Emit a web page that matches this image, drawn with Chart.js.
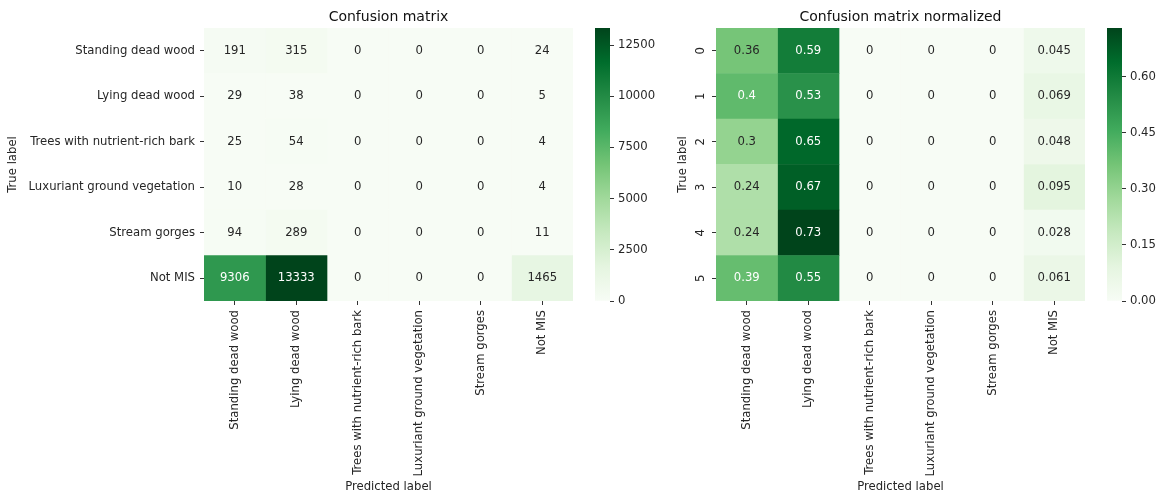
<!DOCTYPE html>
<html>
<head>
<meta charset="utf-8">
<script src="https://cdn.jsdelivr.net/npm/chart.js@4/dist/chart.umd.min.js"></script>
<style>
  html, body { margin: 0; padding: 0; background: #ffffff; }
  #wrap { position: relative; width: 1162px; height: 495px; overflow: hidden; }
  canvas { position: absolute; top: 0; }
</style>
</head>
<body>
<div id="wrap">
  <canvas id="countsChart" width="585" height="495" style="left:0px"></canvas>
  <canvas id="countsBar" width="87" height="495" style="left:585px"></canvas>
  <canvas id="normChart" width="428" height="495" style="left:672px"></canvas>
  <canvas id="normBar" width="62" height="495" style="left:1100px"></canvas>
</div>
<script>
// Class names shared by rows (true) and columns (predicted)
const classLabels = [
  'Standing dead wood',
  'Lying dead wood',
  'Trees with nutrient-rich bark',
  'Luxuriant ground vegetation',
  'Stream gorges',
  'Not MIS'
];
const rowIndexLabels = ['0', '1', '2', '3', '4', '5'];

// Raw counts, one row per true class
const counts = [
  [191, 315, 0, 0, 0, 24],
  [29, 38, 0, 0, 0, 5],
  [25, 54, 0, 0, 0, 4],
  [10, 28, 0, 0, 0, 4],
  [94, 289, 0, 0, 0, 11],
  [9306, 13333, 0, 0, 0, 1465]
];

// Row-normalised rates
const normalized = [
  [0.36, 0.59, 0, 0, 0, 0.045],
  [0.4, 0.53, 0, 0, 0, 0.069],
  [0.3, 0.65, 0, 0, 0, 0.048],
  [0.24, 0.67, 0, 0, 0, 0.095],
  [0.24, 0.73, 0, 0, 0, 0.028],
  [0.39, 0.55, 0, 0, 0, 0.061]
];

// Colour bar tick values
const countTicks = [0, 2500, 5000, 7500, 10000, 12500];
const normTicks = [0, 0.15, 0.30, 0.45, 0.60];

const FONT = '"DejaVu Sans", sans-serif';
const FS = 11.67;
const INK = '#262626';
Chart.defaults.font.family = FONT;
Chart.defaults.font.size = FS;
Chart.defaults.color = INK;

// Sequential green palette (ColorBrewer Greens, 9 stops)
const GREENS = [
  [247, 252, 245], [229, 245, 224], [199, 233, 192], [161, 217, 155],
  [116, 196, 118], [65, 171, 93], [35, 139, 69], [0, 109, 44], [0, 68, 27]
];
function greens(t) {
  t = Math.min(1, Math.max(0, t));
  const p = t * (GREENS.length - 1);
  const i = Math.min(GREENS.length - 2, Math.floor(p));
  const f = p - i;
  return GREENS[i].map((c, k) => c + (GREENS[i + 1][k] - c) * f);
}
const rgb = c => `rgb(${c.map(Math.round).join(',')})`;
function luminance(c) {
  const l = c.map(v => {
    v /= 255;
    return v <= 0.03928 ? v / 12.92 : Math.pow((v + 0.055) / 1.055, 2.4);
  });
  return 0.2126 * l[0] + 0.7152 * l[1] + 0.0722 * l[2];
}

// Writes each cell's value at the centre of its rectangle
const cellText = {
  id: 'cellText',
  afterDatasetsDraw(chart, args, opts) {
    const ctx = chart.ctx;
    ctx.save();
    ctx.font = `${FS}px ${FONT}`;
    ctx.textAlign = 'center';
    ctx.textBaseline = 'middle';
    chart.data.datasets.forEach((ds, j) => {
      chart.getDatasetMeta(j).data.forEach((bar, i) => {
        const v = ds.values[i];
        ctx.fillStyle = luminance(greens(v / opts.vmax)) > 0.408 ? INK : '#ffffff';
        ctx.fillText(opts.fmt(v), (bar.x + bar.base) / 2, bar.y);
      });
    });
    ctx.restore();
  }
};

const tickGrid = { drawOnChartArea: false, drawTicks: true, tickLength: 4, tickWidth: 1, color: '#333333', offset: false };

function heatmap(id, cfg) {
  const vmax = Math.max(...cfg.matrix.flat());
  const datasets = classLabels.map((name, j) => ({
    label: name,
    data: cfg.matrix.map(() => [j, j + 1]),
    values: cfg.matrix.map(row => row[j]),
    backgroundColor: cfg.matrix.map(row => rgb(greens(row[j] / vmax))),
    grouped: false,
    barPercentage: 1,
    categoryPercentage: 1,
    borderWidth: 0
  }));
  return new Chart(document.getElementById(id), {
    type: 'bar',
    data: { labels: cfg.rowLabels, datasets },
    plugins: [cellText],
    options: {
      responsive: false,
      animation: false,
      indexAxis: 'y',
      layout: { padding: { left: 0, right: cfg.padRight, top: 0, bottom: 0 } },
      plugins: {
        legend: { display: false },
        tooltip: { enabled: false },
        title: {
          display: true, text: cfg.title, fullSize: false, color: '#111111',
          font: { size: 14, weight: 'normal' }, padding: { top: 9, bottom: 2.2 }
        },
        cellText: { vmax, fmt: cfg.fmt }
      },
      scales: {
        x: {
          type: 'linear', min: 0, max: classLabels.length,
          afterBuildTicks: s => { s.ticks = classLabels.map((_, j) => ({ value: j + 0.5 })); },
          ticks: { autoSkip: false, minRotation: 90, maxRotation: 90, padding: 5, callback: (v, i) => classLabels[i] },
          grid: tickGrid,
          border: { display: false },
          title: { display: true, text: 'Predicted label', padding: { top: 0, bottom: 1 } },
          afterFit: s => { s.height = 194; }
        },
        y: {
          type: 'category', offset: true,
          ticks: Object.assign({ autoSkip: false }, cfg.yTicks),
          grid: tickGrid,
          border: { display: false },
          title: { display: true, text: 'True label', padding: { top: cfg.yTitlePad, bottom: 0 } },
          afterFit: s => { s.width = cfg.yWidth; }
        }
      }
    }
  });
}

function colorbar(id, cfg) {
  const gradientFill = ctx => {
    const area = ctx.chart.chartArea;
    if (!area) return rgb(GREENS[4]);
    const g = ctx.chart.ctx.createLinearGradient(0, area.bottom, 0, area.top);
    GREENS.forEach((c, k) => g.addColorStop(k / (GREENS.length - 1), rgb(c)));
    return g;
  };
  return new Chart(document.getElementById(id), {
    type: 'bar',
    data: { labels: [''], datasets: [{ data: [[0, cfg.vmax]], backgroundColor: gradientFill, barPercentage: 1, categoryPercentage: 1, borderWidth: 0 }] },
    options: {
      responsive: false,
      animation: false,
      layout: { padding: { left: cfg.padLeft, right: 0, top: 28, bottom: 194 } },
      plugins: { legend: { display: false }, tooltip: { enabled: false } },
      scales: {
        x: { display: false },
        y: {
          position: 'right', min: 0, max: cfg.vmax,
          afterBuildTicks: s => { s.ticks = cfg.ticks.map(v => ({ value: v })); },
          ticks: { padding: 4, callback: cfg.fmt },
          grid: { drawOnChartArea: false, drawTicks: true, tickLength: 4, color: '#333333' },
          border: { display: false },
          afterFit: s => { s.width = cfg.axisWidth; }
        }
      }
    }
  });
}

const countMax = Math.max(...counts.flat());
const normMax = Math.max(...normalized.flat());

heatmap('countsChart', {
  matrix: counts,
  rowLabels: classLabels,
  title: 'Confusion matrix',
  fmt: v => String(v),
  padRight: 12,
  yWidth: 204,
  yTitlePad: 6,
  yTicks: { padding: 5 }
});

heatmap('normChart', {
  matrix: normalized,
  rowLabels: rowIndexLabels,
  title: 'Confusion matrix normalized',
  fmt: v => String(Number(v.toPrecision(2))),
  padRight: 15,
  yWidth: 44,
  yTitlePad: 4,
  yTicks: { padding: 7.6, minRotation: 90, maxRotation: 90, crossAlign: 'center' }
});

colorbar('countsBar', { vmax: countMax, ticks: countTicks, fmt: v => String(v), padLeft: 10, axisWidth: 62 });
colorbar('normBar', { vmax: normMax, ticks: normTicks, fmt: v => v.toFixed(2), padLeft: 7, axisWidth: 40 });
</script>
</body>
</html>
